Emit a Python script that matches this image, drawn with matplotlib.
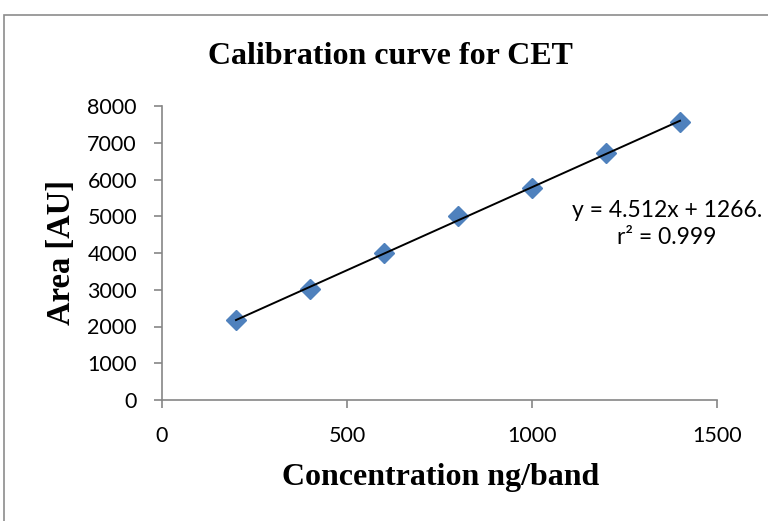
import numpy as np
import matplotlib.pyplot as plt
from matplotlib.patches import Rectangle

# data
conc = [200, 400, 600, 800, 1000, 1200, 1400]
area = [2170, 3020, 3990, 5005, 5760, 6710, 7555]
x_ticks = [0, 500, 1000, 1500]
y_ticks = [0, 1000, 2000, 3000, 4000, 5000, 6000, 7000, 8000]

title = "Calibration curve for CET"
xlabel = "Concentration ng/band"
ylabel = "Area [AU]"
eq_text = "y = 4.512x + 1266.\nr\u00b2 = 0.999"

fig = plt.figure(figsize=(7.68, 5.21), dpi=100)
fig.patch.set_facecolor("white")

# outer chart border (right/bottom run off the image)
fig.add_artist(Rectangle((4 / 768, -0.1), 1.2, (521 - 15) / 521 + 0.1,
                         transform=fig.transFigure, fill=False,
                         edgecolor="#8c8c8c", linewidth=1.2))

ax = fig.add_axes([162 / 768, 121 / 521, 555 / 768, 294 / 521])

# trendline from least squares fit of the points
slope, icpt = np.polyfit(conc, area, 1)
xs = np.array([conc[0], conc[-1]])
ax.plot(xs, slope * xs + icpt, color="black", linewidth=1.4, zorder=3)
ax.plot(conc, area, linestyle="none", marker="D", markersize=10.5,
        color="#4f81bd", zorder=2, clip_on=False)

ax.set_xlim(0, 1500)
ax.set_ylim(0, 8000)
ax.set_xticks(x_ticks)
ax.set_yticks(y_ticks)

for s in ["top", "right"]:
    ax.spines[s].set_visible(False)
for s in ["left", "bottom"]:
    ax.spines[s].set_color("#868686")
    ax.spines[s].set_linewidth(1.2)
ax.tick_params(direction="out", length=6, width=1.2, color="#868686",
               labelsize=15.5)
ax.tick_params(axis="x", pad=13)
ax.tick_params(axis="y", pad=12)
for lab in ax.get_xticklabels() + ax.get_yticklabels():
    lab.set_family("Lato")

serif = "Liberation Serif"
fig.text(390 / 768, 1 - 57 / 521, title, ha="center", va="center",
         family=serif, weight="bold", fontsize=23)
fig.text(441 / 768, 1 - 478 / 521, xlabel, ha="center", va="center",
         family=serif, weight="bold", fontsize=23)
fig.text(61 / 768, 1 - 253 / 521, ylabel, ha="center", va="center",
         rotation=90, family=serif, weight="bold", fontsize=23.5)

fig.text(667 / 768, 1 - 224 / 521, eq_text, ha="center", va="center",
         family="Lato", fontsize=16.5, linespacing=1.3, clip_on=True)

fig.savefig("out.png", dpi=100)
